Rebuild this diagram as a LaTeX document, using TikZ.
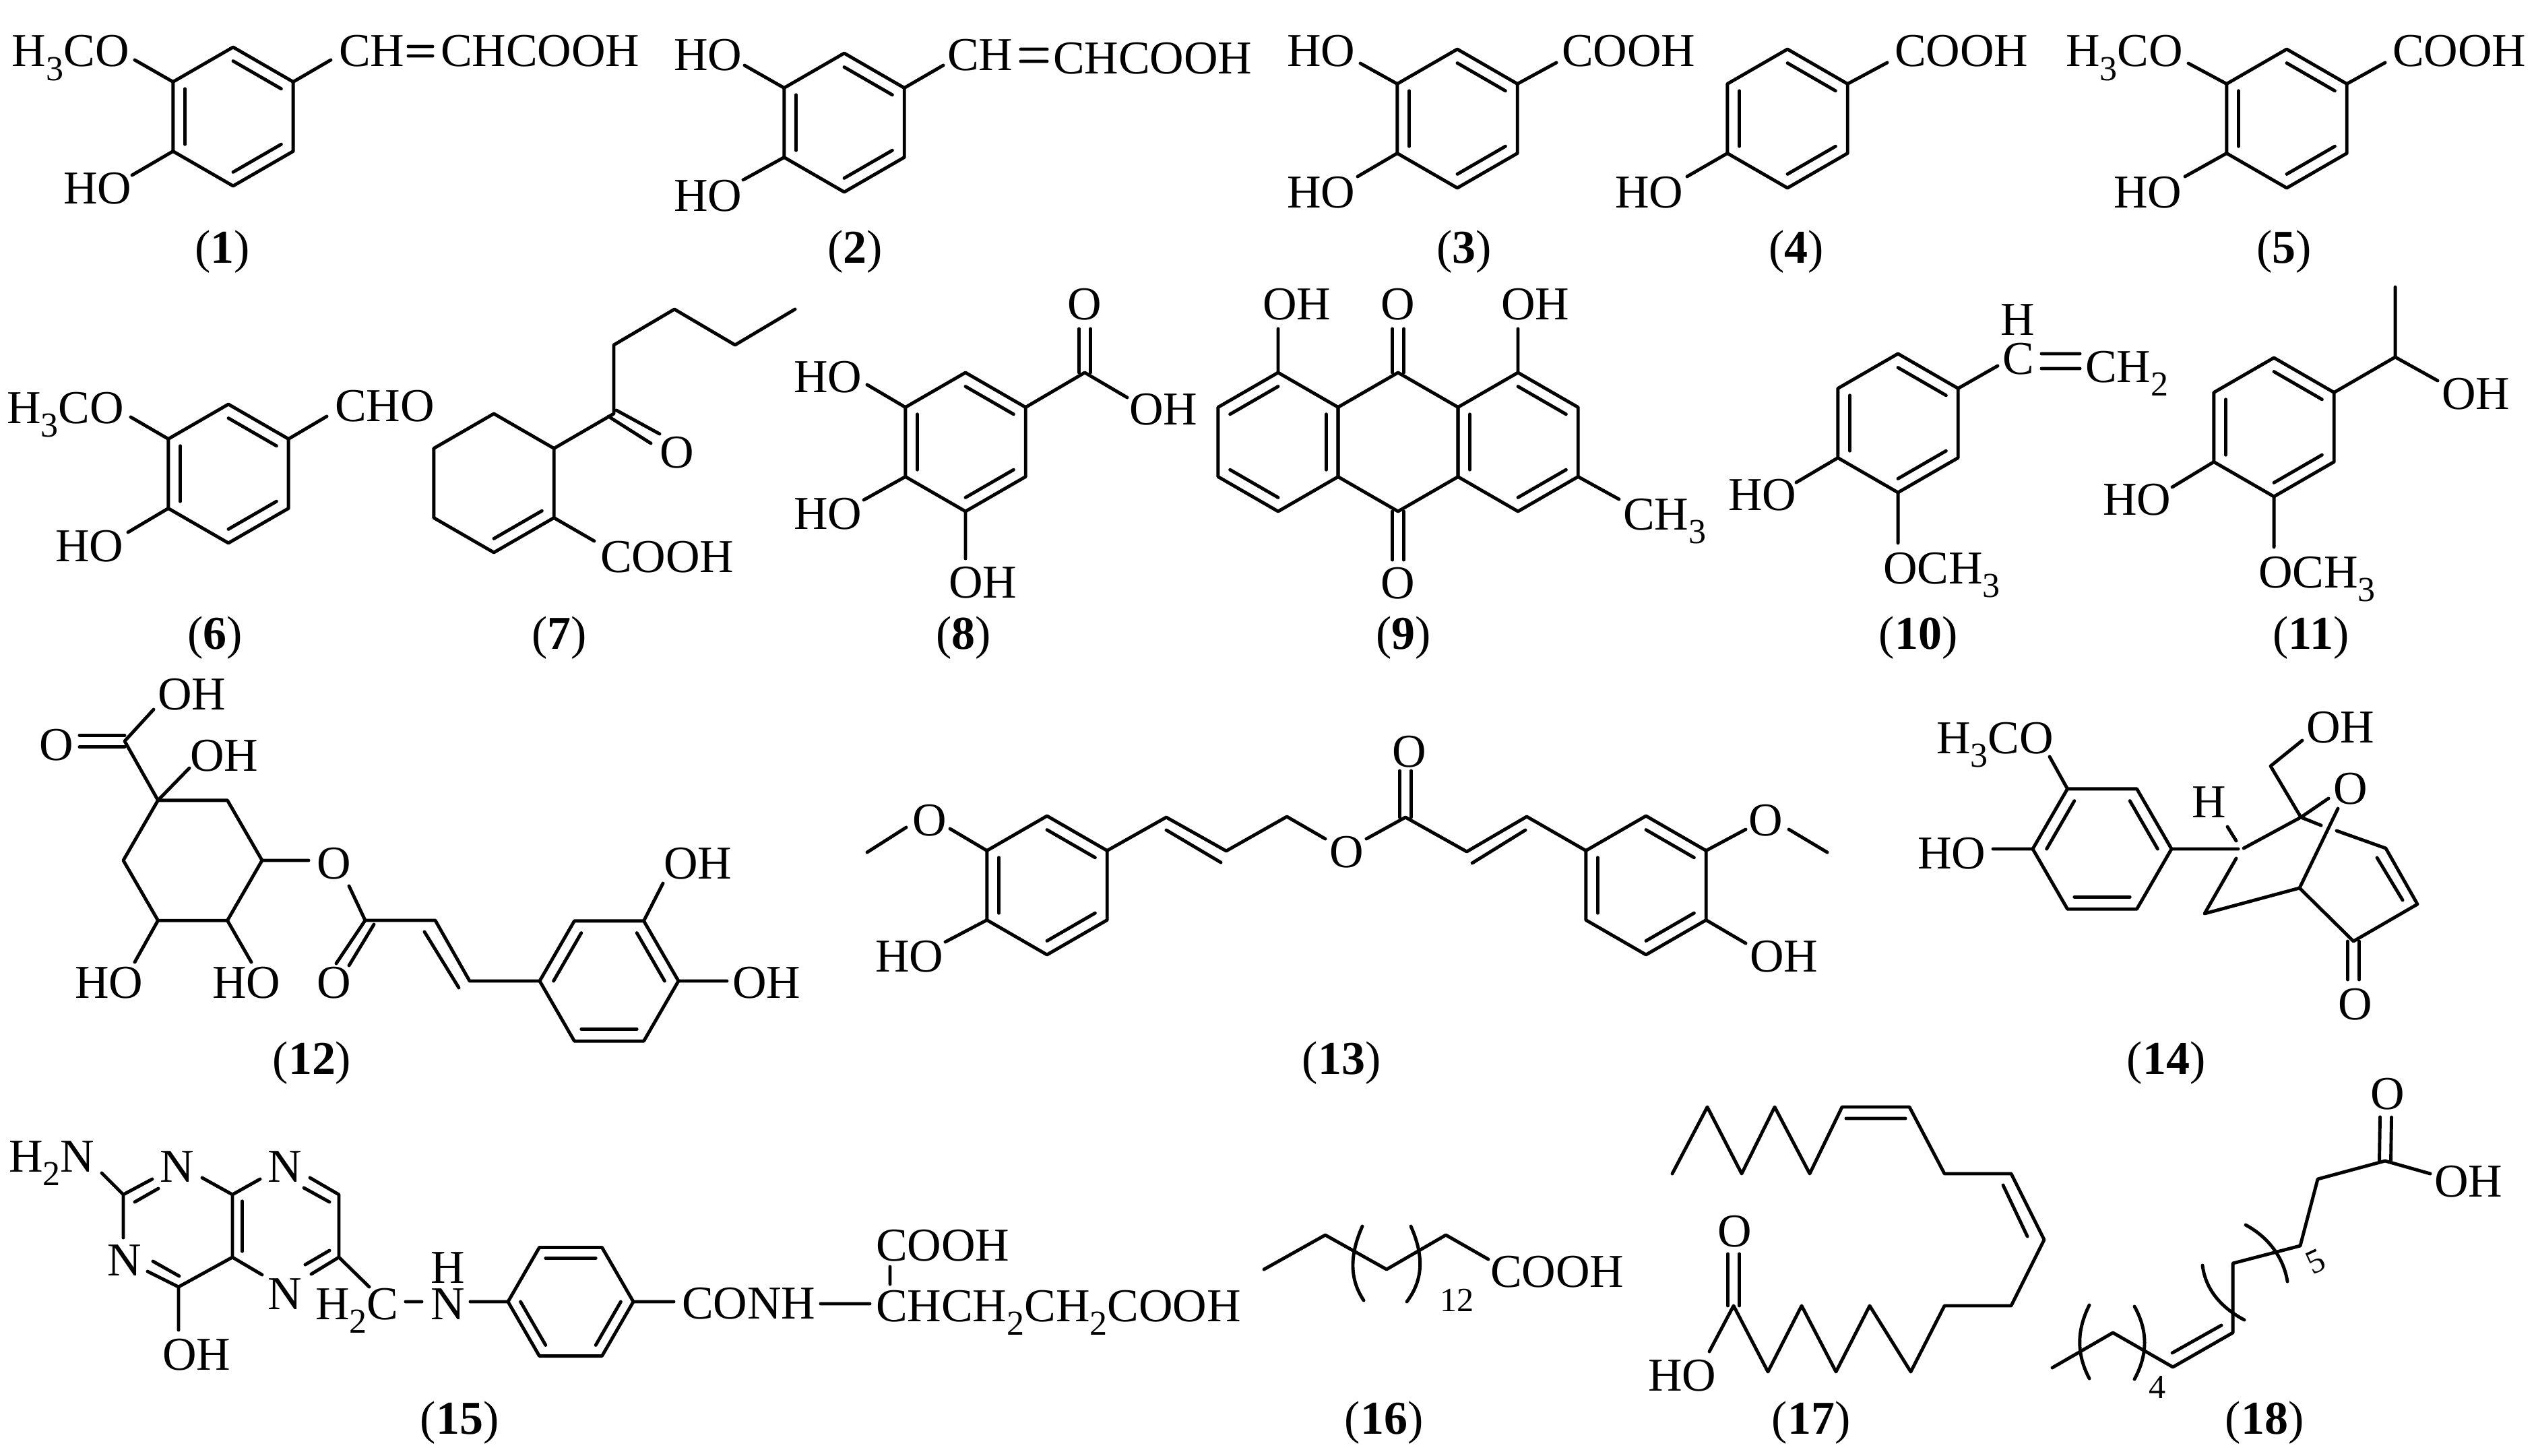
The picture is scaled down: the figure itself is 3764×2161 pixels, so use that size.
\documentclass[tikz,border=0pt]{standalone}
\usepackage{fontspec}
\setmainfont{Liberation Serif}
\usetikzlibrary{calc}
\newcommand\sbs[1]{\raisebox{-5.7pt}{\fontsize{14.8}{15}\selectfont #1}}
\tikzset{
  bond/.style={line width=1.4pt,line cap=round,line join=round,black},
  lbl/.style={font=\fontsize{19.9}{21}\selectfont,inner sep=0pt,outer sep=0pt,anchor=base west,text=black},
  captxt/.style={font=\fontsize{19.9}{21}\selectfont,inner sep=0pt,outer sep=0pt,anchor=base,text=black},
  idx/.style={font=\fontsize{14.3}{15}\selectfont,inner sep=0pt,outer sep=0pt,anchor=base west,text=black}
}
% label node with its bond end coordinate
\newcommand\lab[4]{\node[lbl] (#1) at (#2) {#3}; \coordinate (#1b) at (#4);}
\newcommand\txt[3]{\node[lbl] (#1) at (#2) {#3};}
\newcommand\capt[3]{\node[captxt] (#1) at (#2) {(\textbf{#3})};}
\newcommand\pts[1]{\foreach \n/\x/\y in {#1} {\coordinate (\n) at (\x,\y);}}
\newcommand\ringat[5]{\coordinate (#1c) at (#2,#3);
  \foreach \i in {1,...,6} {\pgfmathsetmacro\a{#4-60*(\i-1)}
    \coordinate (#1\i) at ({#2+#5*cos(\a)},{#3-#5*sin(\a)});}}
\newcommand\closed[1]{\draw[bond] (#11)--(#12)--(#13)--(#14)--(#15)--(#16)--cycle;}
\newcommand\inn[2]{\foreach \i/\j in {#2} {\draw[bond] ($(#1c)!.8!(#1\i)$) -- ($(#1c)!.8!(#1\j)$);}}
\newcommand\dbond[2]{\draw[bond] ($(#1)!0.085cm!90:(#2)$) -- ($(#2)!0.085cm!-90:(#1)$);
  \draw[bond] ($(#1)!0.085cm!-90:(#2)$) -- ($(#2)!0.085cm!90:(#1)$);}
\begin{document}
\begin{tikzpicture}[x=0.01cm,y=-0.01cm]
\fill[white] (0,0) rectangle (3764,2161);
\useasboundingbox (0,0) rectangle (3764,2161);
% ---------- 1
\ringat{a}{346}{173}{90}{103}\closed{a}\inn{a}{1/2,3/4,5/6}
\lab{a7}{18,99}{H\sbs{3}CO}{200,89}\lab{a8}{94,303}{HO}{196,260}
\lab{a9}{503,99}{CH}{491,89}\txt{a10}{654,99}{CHCOOH}
\pts{a11/606/69,a12/642/69,a13/606/83,a14/642/83}
\draw[bond] (a6)--(a7b) (a5)--(a8b) (a2)--(a9b) (a11)--(a12) (a13)--(a14);
\capt{c1}{330,390}{1}
% ---------- 2
\ringat{b}{1253}{182}{90}{103}\closed{b}\inn{b}{1/2,3/4,5/6}
\lab{b7}{1000,105}{HO}{1105,97}\lab{b8}{1000,314}{HO}{1103,267}
\lab{b9}{1406,105}{CH}{1400,97}\txt{b10}{1563,110}{CHCOOH}
\pts{b11/1515/73,b12/1554/73,b13/1515/91,b14/1554/91}
\draw[bond] (b6)--(b7b) (b5)--(b8b) (b2)--(b9b) (b11)--(b12) (b13)--(b14);
\capt{c2}{1269,390}{2}
% ---------- 3
\ringat{d}{2163}{176}{90}{103}\closed{d}\inn{d}{1/2,3/4,5/6}
\lab{d7}{1910,99}{HO}{2019,94}\lab{d8}{1910,309}{HO}{2015,262}\lab{d9}{2318,99}{COOH}{2310,93}
\draw[bond] (d6)--(d7b) (d5)--(d8b) (d2)--(d9b);
\capt{c3}{2173,390}{3}
% ---------- 4
\ringat{e}{2653}{176}{90}{103}\closed{e}\inn{e}{1/2,3/4,5/6}
\lab{e8}{2397,309}{HO}{2504,262}\lab{e9}{2812,99}{COOH}{2801,93}
\draw[bond] (e5)--(e8b) (e2)--(e9b);
\capt{c4}{2666,390}{4}
% ---------- 5
\ringat{f}{3394}{176}{90}{103}\closed{f}\inn{f}{1/2,3/4,5/6}
\lab{f7}{3066,99}{H\sbs{3}CO}{3248,94}\lab{f8}{3137,309}{HO}{3243,262}\lab{f9}{3551,99}{COOH}{3540,93}
\draw[bond] (f6)--(f7b) (f5)--(f8b) (f2)--(f9b);
\capt{c5}{3390,390}{5}
% ---------- 6
\ringat{g}{339}{703}{90}{103}\closed{g}\inn{g}{1/2,3/4,5/6}
\lab{g7}{10,628}{H\sbs{3}CO}{194,619}\lab{g8}{82,833}{HO}{190,790}\lab{g9}{497,625}{CHO}{485,618}
\draw[bond] (g6)--(g7b) (g5)--(g8b) (g2)--(g9b);
\capt{c6}{319,963}{6}
% ---------- 7
\ringat{h}{733}{717}{90}{103}\closed{h}\inn{h}{3/4}
\pts{h7/911/614,h8/911/512,h9/1001/459,h10/1091/512,h11/1180/459,h12/915/609,h13/979/644,h14/903/618,h15/966/658}
\lab{h16}{979,694}{O}{979,644}\lab{h17}{891,849}{COOH}{882,803}
\draw[bond] (h2)--(h7)--(h8)--(h9)--(h10)--(h11) (h12)--(h13) (h14)--(h15) (h3)--(h17b);
\capt{c7}{830,963}{7}
% ---------- 8
\ringat{i}{1433}{656}{90}{103}\closed{i}\inn{i}{1/2,3/4,5/6}
\pts{i7/1610/553,i8/1610/488}
\lab{i9}{1178,582}{HO}{1287,571}\lab{i10}{1178,785}{HO}{1282,742}\lab{i11}{1408,887}{OH}{1433,829}
\lab{i12}{1676,630}{OH}{1673,590}\txt{i13}{1584,475}{O}
\draw[bond] (i6)--(i9b) (i5)--(i10b) (i4)--(i11b) (i2)--(i7)--(i12b);
\dbond{i7}{i8}
\capt{c8}{1430,963}{8}
% ---------- 9
\ringat{j}{1897}{656}{90}{103}\ringat{k}{2075}{656}{90}{103}\ringat{l}{2253}{656}{90}{103}
\closed{j}\closed{k}\closed{l}
\inn{j}{2/3,6/1,4/5}\inn{l}{1/2,3/4,5/6}
\pts{k7/2075/488,k8/2075/831}
\lab{j9}{1874,475}{OH}{1897,488}\lab{l9}{2228,475}{OH}{2253,488}
\txt{k9}{2049,475}{O}\txt{k10}{2049,888}{O}
\lab{l10}{2409,786}{CH\sbs{3}}{2403,741}
\dbond{k1}{k7}\dbond{k4}{k8}
\draw[bond] (j1)--(j9b) (l1)--(l9b) (l3)--(l10b);
\capt{c9}{2083,963}{9}
% ---------- 10
\ringat{m}{2817}{628}{90}{103}\closed{m}\inn{m}{1/2,3/4,5/6}
\pts{m11/3030/525,m12/3087/525,m13/3030/547,m14/3087/547}
\lab{m7}{2972,555}{C}{2965,543}\txt{m8}{2969,497}{H}\txt{m9}{3095,567}{CH\sbs{2}}
\lab{m10}{2565,757}{HO}{2666,716}\lab{m15}{2795,866}{OCH\sbs{3}}{2817,806}
\draw[bond] (m2)--(m7b) (m5)--(m10b) (m4)--(m15b) (m11)--(m12) (m13)--(m14);
\capt{c10}{2847,963}{10}
% ---------- 11
\ringat{n}{3375}{634}{90}{103}\closed{n}\inn{n}{1/2,3/4,5/6}
\pts{n7/3555/530,n8/3555/426}
\lab{n9}{3121,764}{HO}{3224,723}\lab{n10}{3352,872}{OCH\sbs{3}}{3375,812}\lab{n11}{3624,607}{OH}{3618,565}
\draw[bond] (n5)--(n9b) (n4)--(n10b) (n2)--(n7)--(n8) (n7)--(n11b);
\capt{c11}{3430,963}{11}
% ---------- 12
\ringat{o}{286}{1277}{120}{103}\closed{o}
\ringat{p}{904}{1456}{120}{103}\closed{p}\inn{p}{6/1,2/3,4/5}
\pts{o7/185/1100,o8/118/1100,o20/542/1366,o21/646/1366,o22/697/1456,o23/630/1383,o24/681/1466,o25/518/1315,o26/499/1430,o27/555/1372,o28/518/1433}
\txt{o9}{58,1128}{O}\lab{o10}{234,1053}{OH}{228,1053}\lab{o11}{282,1144}{OH}{281,1140}
\lab{o12}{111,1481}{HO}{200,1428}\lab{o13}{315,1481}{HO}{373,1428}
\lab{o14}{470,1304}{O}{458,1277}\txt{o15}{470,1481}{O}
\lab{p7}{985,1304}{OH}{984,1311}\lab{p8}{1087,1481}{OH}{1079,1456}
\dbond{o7}{o8}
\draw[bond] (o1)--(o7)--(o10b) (o1)--(o11b) (o5)--(o12b) (o4)--(o13b) (o3)--(o14b) (o25)--(o20)--(o21)--(o22)--(p6)
 (o20)--(o26) (o27)--(o28) (o23)--(o24) (p2)--(p7b) (p3)--(p8b);
\capt{c12}{463,1594}{12}
% ---------- 13
\ringat{q}{1554}{1314}{90}{103}\closed{q}\inn{q}{1/2,3/4,5/6}
\ringat{r}{2443}{1314}{90}{103}\closed{r}\inn{r}{1/2,3/4,5/6}
\pts{q7/1287/1265,q8/1345/1228,q9/1410/1230,q10/1731/1213,q11/1820/1263,q12/1731/1232,q13/1812/1280,q14/1910/1212,q15/1967/1245,q16/2028/1245,q17/2086/1213,q18/2086/1144,q19/2177/1264,q20/2266/1212,q21/2185/1281,q22/2264/1232,r8/2655/1231,r9/2712/1265}
\txt{q23}{1354,1240}{O}\lab{q24}{1299,1442}{HO}{1403,1398}\txt{q25}{1973,1287}{O}\txt{q26}{2066,1138}{O}
\lab{r10}{2595,1240}{O}{2591,1231}\lab{r11}{2597,1442}{OH}{2591,1400}
\dbond{q17}{q18}
\draw[bond] (q7)--(q8) (q9)--(q6) (q5)--(q24b) (q2)--(q10)--(q11)--(q14)--(q15) (q12)--(q13)
 (q16)--(q17)--(q19)--(q20)--(r6) (q21)--(q22) (r2)--(r10b) (r8)--(r9) (r3)--(r11b);
\capt{c13}{1991,1594}{13}
% ---------- 14
\ringat{s}{3120}{1260}{120}{103}\closed{s}\inn{s}{6/1,2/3,4/5}
\pts{s7/3322/1260,s8/3415/1213,s9/3370/1137,s10/3417/1099,s11/3456/1185,s12/3445/1225,s13/3413/1318,s14/3468/1233,s15/3541/1259,s16/3588/1342,s17/3528/1273,s18/3566/1336,s19/3493/1397,s20/3493/1454,s21/3272/1356,s22/3319/1274,s23/3306/1227,s24/3470/1200,s31/3319/1248,s32/3330/1259}
\lab{s25}{2874,1118}{H\sbs{3}CO}{3042,1123}\lab{s26}{2846,1289}{HO}{2958,1260}\txt{s27}{3253,1213}{H}
\txt{s28}{3423,1102}{OH}\txt{s29}{3463,1193}{O}\txt{s30}{3470,1513}{O}
\dbond{s19}{s20}
\draw[bond] (s1)--(s25b) (s6)--(s26b) (s3)--(s7) (s32)--(s8)--(s9)--(s10) (s8)--(s11) (s8)--(s12)
 (s24)--(s13)--(s19)--(s16)--(s15)--(s14) (s17)--(s18) (s13)--(s21)--(s22) (s23)--(s31);
\capt{c14}{3215,1594}{14}
% ---------- 15
\ringat{t}{264}{1820}{90}{93}\ringat{u}{424}{1820}{90}{93}
\pts{t2/345/1773,t3/345/1866,t6/183/1773,t4/265/1910,u2/503/1773,u3/503/1866,t7/151/1741,t8/226/1750,t9/200/1784,t10/235/1764,t11/300/1748,t12/386/1750,t13/460/1748,t14/451/1763,t15/489/1784,t16/462/1891,t17/489/1856,t18/453/1877,t19/389/1892,t20/265/1974,t21/219/1887,t22/266/1894,t23/227/1872,t24/183/1837,t25/548/1910,t26/602/1932,t27/626/1932,t28/698/1932,t29/753/1932,t30/1000/1932,t31/1218/1935,t32/1291/1935,t33/1321/1880,t34/1321/1906}
\ringat{v}{847}{1932}{120}{93}\closed{v}\inn{v}{1/2,3/4,5/6}
\lab{t40}{13,1739}{H\sbs{2}N}{151,1741}\txt{t41}{237,1754}{N}\txt{t42}{397,1754}{N}\txt{t43}{397,1943}{N}\txt{t44}{159,1893}{N}
\lab{t45}{241,2033}{OH}{265,1974}\txt{t46}{468,1958}{H\sbs{2}C}\txt{t47}{639,1958}{N}\txt{t48}{639,1904}{H}
\txt{t49}{1012,1957}{CONH}\txt{t50}{1300,1961}{CHCH\sbs{2}CH\sbs{2}COOH}\txt{t51}{1300,1871}{COOH}
\draw[bond] (t6)--(t40b) (t6)--(t8) (t9)--(t10) (t11)--(t2) (t2)--(t3) (t2)--(t12) (t13)--(u2)--(u3) (t14)--(t15)
 (u3)--(t16) (t17)--(t18) (t3)--(t19) (t3)--(t4)--(t45b) (t4)--(t21) (t22)--(t23) (t6)--(t24) (u3)--(t25)
 (t26)--(t27) (t28)--(t29) (v3)--(t30) (t31)--(t32) (t33)--(t34);
\inn{u}{5/6}
\capt{c15}{682,2128}{15}
% ---------- 16
\pts{w1/1876/1884,w2/1967/1833,w3/2058/1884,w4/2146/1833,w5/2209/1869,w6/2022/1820,w7/2024/1930,w8/2094/1820,w9/2088/1932}
\txt{w10}{2212,1910}{COOH}\node[idx] (w11) at (2137,1946) {12};
\draw[bond] (w1)--(w2)--(w3)--(w4)--(w5);
\draw[bond] (w6) .. controls (2002,1865) and (2004,1900) .. (w7);
\draw[bond] (w8) .. controls (2114,1865) and (2112,1900) .. (w9);
\capt{c16}{2054,2128}{16}
% ---------- 17
\pts{x1/2482/1742,x2/2534/1643,x3/2585/1742,x4/2634/1643,x5/2686/1742,x6/2734/1643,x7/2834/1643,x8/2886/1742,x9/2985/1742,x10/3034/1840,x11/2985/1938,x12/2886/1938,x13/2836/2036,x14/2775/1938,x15/2725/2036,x16/2674/1938,x17/2624/2036,x18/2573/1938,x19/2740/1660,x20/2828/1660,x21/2973/1759,x22/3009/1835,x23/2573/1861,x24/2537/2006}
\draw[bond] (x1)--(x2)--(x3)--(x4)--(x5)--(x6)--(x7)--(x8)--(x9)--(x10)--(x11)--(x12)--(x13)--(x14)--(x15)--(x16)--(x17)--(x18)--(x24)
 (x19)--(x20) (x21)--(x22);
\dbond{x18}{x23}
\txt{x25}{2549,1850}{O}\txt{x26}{2446,2064}{HO}
\capt{c17}{2688,2128}{17}
% ---------- 18
\pts{y1/3540/1723,y2/3541/1658,y3/3607/1742,y4/3440/1750,y5/3414/1849,y6/3314/1875,y7/3314/1978,y8/3225/2029,y9/3224/2008,y10/3297/1967,y11/3136/1978,y12/3046/2030,y13/3269/1878,y14/3331/1959,y15/3333/1818,y16/3395/1902,y17/3101/1937,y18/3101/2046,y19/3168/1939,y20/3168/2047}
\txt{y21}{3518,1646}{O}\txt{y22}{3613,1776}{OH}
\node[idx] (y23) at (3189,2075) {4};\node[idx,anchor=center,rotate=25] (y24) at (3437,1872) {5};
\dbond{y1}{y2}
\draw[bond] (y1)--(y3) (y1)--(y4)--(y5)--(y6)--(y7)--(y8)--(y11)--(y12) (y9)--(y10);
\draw[bond] (y13) .. controls (3273,1912) and (3295,1940) .. (y14);
\draw[bond] (y15) .. controls (3370,1838) and (3390,1870) .. (y16);
\draw[bond] (y17) .. controls (3082,1975) and (3082,2010) .. (y18);
\draw[bond] (y19) .. controls (3188,1975) and (3188,2010) .. (y20);
\capt{c18}{3361,2128}{18}
\end{tikzpicture}
\end{document}
